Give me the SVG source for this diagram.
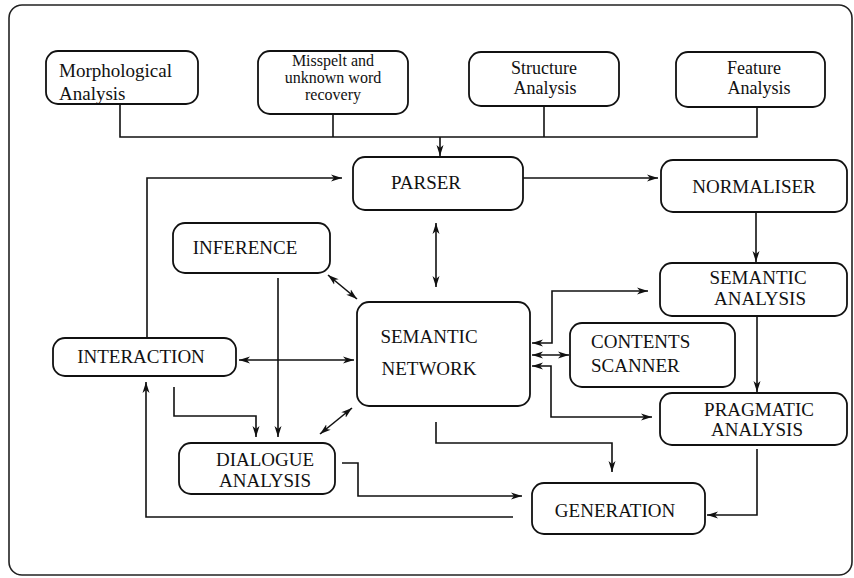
<svg xmlns="http://www.w3.org/2000/svg" width="854" height="578" viewBox="0 0 854 578">
<style>
.box{fill:#fff;stroke:#111;stroke-width:1.8}
.frame{fill:none;stroke:#222;stroke-width:1.6}
.t{font-family:"Liberation Serif","Times New Roman",serif;font-size:19px;fill:#111}
.s{font-size:16px}
.s2{font-size:18px}
.m{text-anchor:middle}
.c{fill:none;stroke:#111;stroke-width:1.6}
.a{marker-end:url(#ah)}
.b{marker-start:url(#ah);marker-end:url(#ah)}
</style>
<defs>
<marker id="ah" markerUnits="userSpaceOnUse" markerWidth="12" markerHeight="8" refX="11" refY="4" orient="auto-start-reverse" viewBox="0 0 12 8">
<path d="M0,0.5 L11,4 L0,7.5 L3,4 z" fill="#111"/>
</marker>
</defs>
<rect class="frame" x="9" y="5" width="843" height="570" rx="13"/>
<g id="morphological">
<rect class="box" x="46" y="51" width="152" height="53" rx="12"/>
<text class="t" x="59" y="77">Morphological</text>
<text class="t" x="59" y="100">Analysis</text>
</g>
<g id="misspelt">
<rect class="box" x="258" y="51" width="150" height="63" rx="12"/>
<text class="t s m" x="333" y="66">Misspelt and</text>
<text class="t s m" x="333" y="83">unknown word</text>
<text class="t s m" x="333" y="100">recovery</text>
</g>
<g id="structure">
<rect class="box" x="469" y="52" width="150" height="54" rx="12"/>
<text class="t s2 m" x="544" y="74">Structure</text>
<text class="t s2 m" x="545" y="94">Analysis</text>
</g>
<g id="feature">
<rect class="box" x="676" y="52" width="149" height="55" rx="12"/>
<text class="t s2 m" x="754" y="74">Feature</text>
<text class="t s2 m" x="759" y="94">Analysis</text>
</g>
<g id="parser">
<rect class="box" x="353" y="157" width="170" height="53" rx="12"/>
<text class="t m" x="426" y="189">PARSER</text>
</g>
<g id="normaliser">
<rect class="box" x="661" y="160" width="186" height="52" rx="12"/>
<text class="t m" x="754" y="193">NORMALISER</text>
</g>
<g id="inference">
<rect class="box" x="173" y="223" width="157" height="50" rx="12"/>
<text class="t m" x="245" y="254">INFERENCE</text>
</g>
<g id="semantic-analysis">
<rect class="box" x="660" y="263" width="187" height="53" rx="12"/>
<text class="t m" x="758" y="284">SEMANTIC</text>
<text class="t m" x="760" y="305">ANALYSIS</text>
</g>
<g id="semantic-network">
<rect class="box" x="357" y="302" width="173" height="104" rx="12"/>
<text class="t m" x="429" y="343">SEMANTIC</text>
<text class="t m" x="429" y="375">NETWORK</text>
</g>
<g id="contents-scanner">
<rect class="box" x="570" y="323" width="165" height="64" rx="12"/>
<text class="t" x="591" y="348">CONTENTS</text>
<text class="t" x="591" y="372">SCANNER</text>
</g>
<g id="interaction">
<rect class="box" x="53" y="338" width="183" height="38" rx="12"/>
<text class="t m" x="141" y="363">INTERACTION</text>
</g>
<g id="pragmatic-analysis">
<rect class="box" x="660" y="393" width="187" height="52" rx="12"/>
<text class="t m" x="759" y="416">PRAGMATIC</text>
<text class="t m" x="757" y="436">ANALYSIS</text>
</g>
<g id="dialogue-analysis">
<rect class="box" x="179" y="443" width="156" height="51" rx="12"/>
<text class="t m" x="265" y="466">DIALOGUE</text>
<text class="t m" x="265" y="487">ANALYSIS</text>
</g>
<g id="generation">
<rect class="box" x="532" y="483" width="173" height="51" rx="12"/>
<text class="t m" x="615" y="517">GENERATION</text>
</g>
<g id="connectors">
<polyline class="c" points="120,104 120,137 757,137 757,107"/>
<line class="c" x1="333" y1="114" x2="333" y2="137"/>
<line class="c" x1="544" y1="106" x2="544" y2="137"/>
<line class="c a" x1="440" y1="137" x2="440" y2="156"/>
<polyline class="c a" points="147,338 147,178 342,178"/>
<line class="c a" x1="523" y1="178" x2="658" y2="178"/>
<line class="c a" x1="756" y1="212" x2="756" y2="262"/>
<line class="c a" x1="757" y1="316" x2="757" y2="392"/>
<polyline class="c a" points="757,449 757,515 707,515"/>
<line class="c b" x1="436" y1="223" x2="436" y2="287"/>
<polyline class="c b" points="532,343 552,343 552,291 648,291"/>
<line class="c b" x1="532" y1="355" x2="569" y2="355"/>
<polyline class="c b" points="532,366 551,366 551,417 652,417"/>
<line class="c b" x1="328" y1="275" x2="357" y2="299"/>
<line class="c b" x1="239" y1="360" x2="354" y2="360"/>
<line class="c a" x1="278" y1="278" x2="278" y2="437"/>
<polyline class="c a" points="174,387 174,416 256,416 256,437"/>
<line class="c b" x1="320" y1="434" x2="352" y2="408"/>
<polyline class="c a" points="436,422 436,443 612,443 612,472"/>
<polyline class="c a" points="342,463 358,463 358,496 522,496"/>
<polyline class="c a" points="513,517 146,517 146,382"/>
</g>
</svg>
